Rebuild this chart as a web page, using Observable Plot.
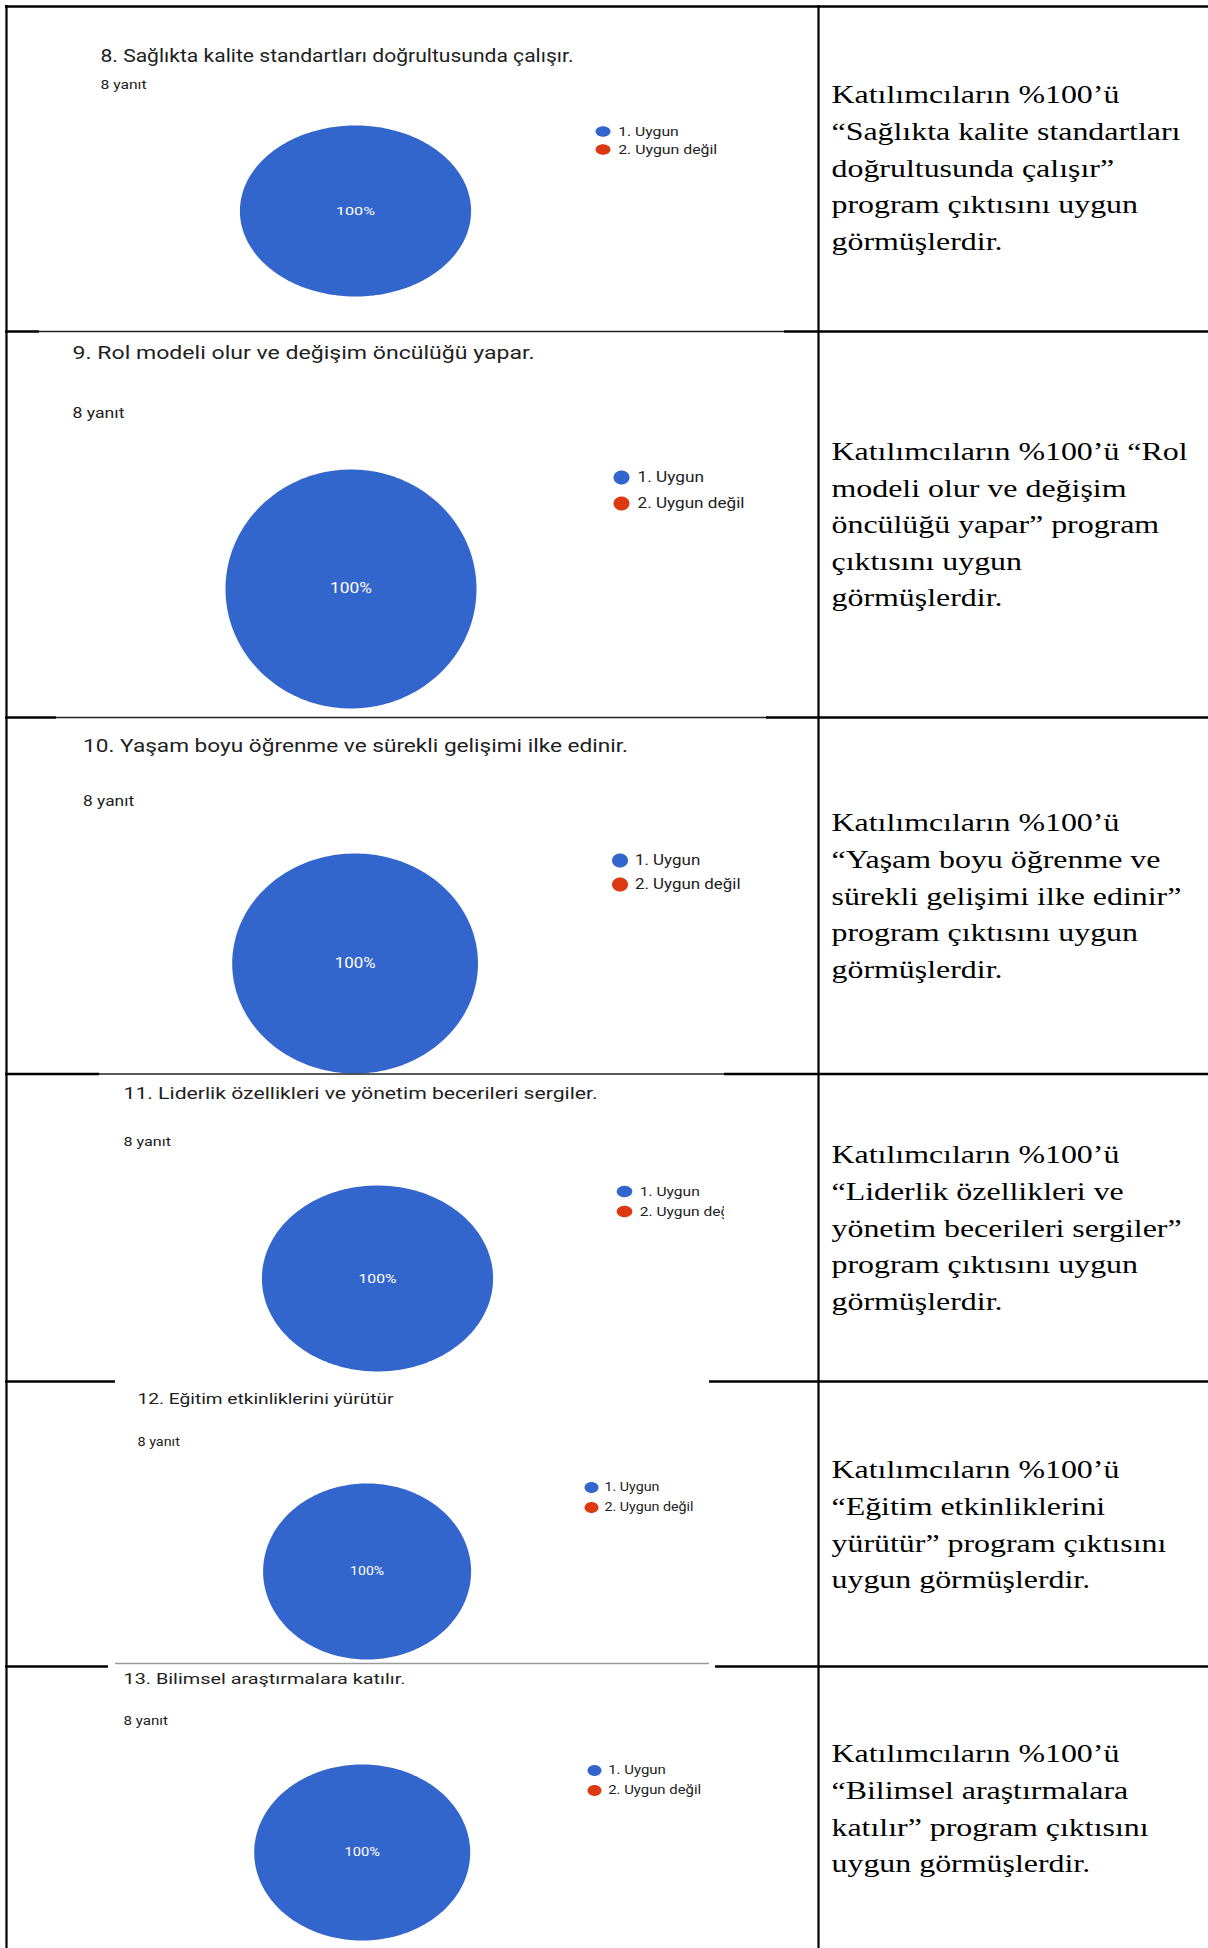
<!DOCTYPE html>
<html>
<head>
<meta charset="utf-8">
<script src="https://cdn.jsdelivr.net/npm/d3@7"></script>
<script src="https://cdn.jsdelivr.net/npm/@observablehq/plot@0.6"></script>
<style>
  html, body { margin: 0; padding: 0; background: #fff; overflow: hidden; }
  #chart svg { display: block; }
</style>
</head>
<body>
<div id="chart"></div>
<script>
// ---------------- DATA ----------------
const questions = [
  "8. Sağlıkta kalite standartları doğrultusunda çalışır.",
  "9. Rol modeli olur ve değişim öncülüğü yapar.",
  "10. Yaşam boyu öğrenme ve sürekli gelişimi ilke edinir.",
  "11. Liderlik özellikleri ve yönetim becerileri sergiler.",
  "12. Eğitim etkinliklerini yürütür",
  "13. Bilimsel araştırmalara katılır."
];
const responseCounts = [8, 8, 8, 8, 8, 8];
const categories = ["1. Uygun", "2. Uygun değil"];
const uygunCounts = [8, 8, 8, 8, 8, 8];
const uygunDegilCounts = [0, 0, 0, 0, 0, 0];
const categoryColors = ["#3366cc", "#dc3912"];
const summaryTexts = [
  "Katılımcıların %100’ü\n“Sağlıkta kalite standartları\ndoğrultusunda çalışır”\nprogram çıktısını uygun\ngörmüşlerdir.",
  "Katılımcıların %100’ü “Rol\nmodeli olur ve değişim\nöncülüğü yapar” program\nçıktısını uygun\ngörmüşlerdir.",
  "Katılımcıların %100’ü\n“Yaşam boyu öğrenme ve\nsürekli gelişimi ilke edinir”\nprogram çıktısını uygun\ngörmüşlerdir.",
  "Katılımcıların %100’ü\n“Liderlik özellikleri ve\nyönetim becerileri sergiler”\nprogram çıktısını uygun\ngörmüşlerdir.",
  "Katılımcıların %100’ü\n“Eğitim etkinliklerini\nyürütür” program çıktısını\nuygun görmüşlerdir.",
  "Katılımcıların %100’ü\n“Bilimsel araştırmalara\nkatılır” program çıktısını\nuygun görmüşlerdir."
];

// ---------------- LAYOUT (positions / sizes only) ----------------
const W = 1208, H = 1948;
const layout = [
  {cx:355, cy:210.5, rx:115.6, ry:85.5, tX:100, tY:56.3, tFs:17.5, tW:473, yX:100, yY:84, yFs:12.5, yW:46,
   lX:617.7, lY:[131,149], lFs:12.5, lW:[60.6,99], sX:602.5, sRx:7.5, sRy:5.2, pFs:11.7, pW:39, sumY:77},
  {cx:350.5, cy:588.5, rx:125.5, ry:119.5, tX:72, tY:353, tFs:18, tW:462, yX:72, yY:412.5, yFs:14.5, yW:52,
   lX:637, lY:[477,503], lFs:14.5, lW:[66.5,107], sX:621, sRx:8, sRy:7, pFs:14, pW:41.8, sumY:433.5},
  {cx:354.6, cy:963, rx:122.9, ry:110, tX:82.6, tY:746, tFs:18, tW:545, yX:82.6, yY:801, yFs:14, yW:51,
   lX:634.4, lY:[860,884], lFs:14, lW:[65.4,105.6], sX:619.5, sRx:8, sRy:7, pFs:14, pW:40.8, sumY:805},
  {cx:377, cy:1278, rx:115.6, ry:93, tX:123, tY:1093.5, tFs:16, tW:474, yX:123, yY:1141, yFs:12.5, yW:47.5,
   lX:639.3, lY:[1191,1211], lFs:12.5, lW:[60,97], sX:624, sRx:7.8, sRy:5.8, pFs:12.5, pW:38, sumY:1137},
  {cx:366.6, cy:1571, rx:104, ry:88, tX:137, tY:1398.5, tFs:15.5, tW:256, yX:137, yY:1442, yFs:12, yW:42.4,
   lX:604, lY:[1487,1507], lFs:12, lW:[55,89], sX:591, sRx:7, sRy:5.5, pFs:12, pW:34, sumY:1452},
  {cx:361.7, cy:1852, rx:108, ry:88, tX:123, tY:1679, tFs:15.5, tW:282, yX:123, yY:1721, yFs:12, yW:44.4,
   lX:607.7, lY:[1770,1790], lFs:12, lW:[57.6,93], sX:594, sRx:7, sRy:5.5, pFs:12, pW:35.6, sumY:1736}
];
const sumX = 831, sumFs = 26, sumSx = 1.227, sumLineHeight = 36.6 / 26;

// ---------------- DERIVED MARK DATA ----------------
const pieGen = d3.pie().sort(null).value(d => d.value);
const pieData = [], labelData = [], swatchData = [], titleData = [], yanitData = [], legendData = [];

layout.forEach((L, i) => {
  const vals = categories.map((c, j) => ({category: c, value: j === 0 ? uygunCounts[i] : uygunDegilCounts[i]}));
  const total = d3.sum(vals, d => d.value);
  const arcs = pieGen(vals);
  arcs.forEach(a => {
    const span = a.endAngle - a.startAngle;
    if (span <= 0) return;
    const full = span >= 2 * Math.PI - 1e-9;
    const key = i + "-" + a.data.category;
    if (!full) pieData.push({key, category: a.data.category, x: L.cx, y: L.cy});
    const n = 240;
    for (let k = 0; k <= n; k++) {
      const t = a.startAngle + span * k / n;
      pieData.push({key, category: a.data.category, x: L.cx + L.rx * Math.sin(t), y: L.cy - L.ry * Math.cos(t)});
    }
    const frac = a.data.value / total;
    const mid = (a.startAngle + a.endAngle) / 2;
    const rr = full ? 0 : 0.6;
    labelData.push({x: L.cx + rr * L.rx * Math.sin(mid), y: L.cy - rr * L.ry * Math.cos(mid),
                    text: d3.format(".0%")(frac), fs: L.pFs, w: L.pW});
  });
  titleData.push({x: L.tX, y: L.tY, text: questions[i], fs: L.tFs, w: L.tW});
  yanitData.push({x: L.yX, y: L.yY, text: responseCounts[i] + " yanıt", fs: L.yFs, w: L.yW});
  categories.forEach((c, j) => {
    legendData.push({x: L.lX, y: L.lY[j], text: c, fs: L.lFs, w: L.lW[j]});
    for (let k = 0; k <= 48; k++) {
      const t = 2 * Math.PI * k / 48;
      swatchData.push({key: i + "-" + c, category: c, x: L.sX + L.sRx * Math.sin(t), y: L.lY[j] - L.sRy * Math.cos(t)});
    }
  });
});

const summaryData = summaryTexts.map((t, i) => ({x: sumX, y: layout[i].sumY, text: t}));

// table lines
const vRules = [{x: 6, y1: 5, y2: H}, {x: 818, y1: 5, y2: H}];
const hThick = [
  {y: 6, x1: 5, x2: W},
  {y: 331, x1: 5, x2: 39}, {y: 331, x1: 784, x2: W},
  {y: 717, x1: 5, x2: 56}, {y: 717, x1: 766, x2: W},
  {y: 1073.5, x1: 5, x2: 99}, {y: 1073.5, x1: 724, x2: W},
  {y: 1381, x1: 5, x2: 115}, {y: 1381, x1: 709, x2: W},
  {y: 1666, x1: 5, x2: 108}, {y: 1666, x1: 715, x2: W}
];
const hThin = [
  {y: 331, x1: 39, x2: 784, c: "#222"},
  {y: 717, x1: 56, x2: 766, c: "#222"},
  {y: 1073.5, x1: 99, x2: 724, c: "#222"},
  {y: 1663, x1: 115, x2: 709, c: "#9a9a9a"}
];

const font = "Roboto, 'Noto Sans', sans-serif";
const plot = Plot.plot({
  width: W, height: H,
  margin: 0,
  x: {type: "identity", axis: null},
  y: {type: "identity", axis: null},
  color: {domain: categories, range: categoryColors, legend: false},
  style: {background: "#fff"},
  marks: [
    Plot.line(pieData, {x: "x", y: "y", z: "key", fill: "category", stroke: "none", curve: "linear"}),
    Plot.line(swatchData, {x: "x", y: "y", z: "key", fill: "category", stroke: "none", curve: "linear"}),
    Plot.text(titleData, {x: "x", y: "y", text: "text", fontSize: "fs", textAnchor: "start", fill: "#212121", fontFamily: font}),
    Plot.text(yanitData, {x: "x", y: "y", text: "text", fontSize: "fs", textAnchor: "start", fill: "#212121", fontFamily: font}),
    Plot.text(legendData, {x: "x", y: "y", text: "text", fontSize: "fs", textAnchor: "start", fill: "#222222", fontFamily: font}),
    Plot.text(labelData, {x: "x", y: "y", text: "text", fontSize: "fs", textAnchor: "middle", fill: "#ffffff", fontFamily: font}),
    Plot.rect([{x1: 724, x2: 816, y1: 1198, y2: 1224}], {x1: "x1", x2: "x2", y1: "y1", y2: "y2", fill: "#fff"}),
    Plot.text(summaryData, {x: "x", y: "y", text: "text", fontSize: sumFs, lineAnchor: "top", lineHeight: sumLineHeight,
      textAnchor: "start", fill: "#000", fontFamily: "'Liberation Serif', 'Times New Roman', serif"}),
    Plot.ruleY(hThin, {y: "y", x1: "x1", x2: "x2", stroke: "c", strokeWidth: 1.3}),
    Plot.ruleY(hThick, {y: "y", x1: "x1", x2: "x2", stroke: "#000", strokeWidth: 2.4}),
    Plot.ruleX(vRules, {x: "x", y1: "y1", y2: "y2", stroke: "#000", strokeWidth: 2.2})
  ]
});

// text mark groups in mark order: titles, yanıt, legend, labels, summary
const textGroups = plot.querySelectorAll('g[aria-label="text"]');
const fitSets = [titleData, yanitData, legendData, labelData];
fitSets.forEach((data, gi) => {
  const g = textGroups[gi];
  if (!g) return;
  g.querySelectorAll("text").forEach((el, i) => {
    if (!data[i]) return;
    el.setAttribute("textLength", data[i].w);
    el.setAttribute("lengthAdjust", "spacingAndGlyphs");
  });
});
// horizontal stretch of the summary column (as in the reference image)
const sg = textGroups[4];
if (sg) sg.querySelectorAll("text").forEach(el => {
  const tr = el.getAttribute("transform");
  if (tr) el.setAttribute("transform", tr + ` scale(${sumSx},1)`);
});

document.getElementById("chart").appendChild(plot);
</script>
</body>
</html>
